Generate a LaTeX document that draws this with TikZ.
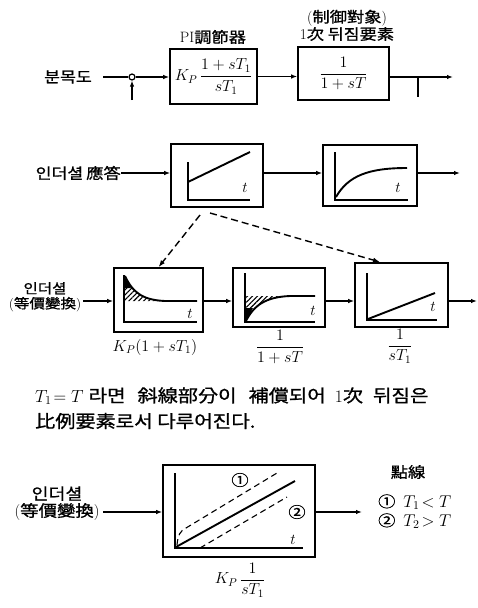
\documentclass[tikz,border=0pt]{standalone}
\usepackage{fix-cm}
\usepackage{amsmath}
\usepackage{fontspec}
\newfontfamily\kr{Noto Sans CJK KR}[FakeBold=1,FakeStretch=1.15]
\usetikzlibrary{arrows.meta,patterns.meta,calc}
\begin{document}
\begin{tikzpicture}[x=1pt,y=-1pt,
  box/.style={draw,line width=1.6pt,inner sep=0pt,font=\fontsize{16}{19}\selectfont},
  conn/.style={line width=1.3pt,-{Latex[length=6pt,width=4.5pt]}},
  dsh/.style={line width=1.4pt,dash pattern=on 7pt off 4pt,-{Latex[length=7pt,width=5pt]}},
  ln/.style={line width=1.3pt},
  axis/.style={line width=1.1pt},
  crv/.style={line width=1.9pt},
  ddl/.style={line width=1.1pt,dash pattern=on 6pt off 4pt},
  hatch/.style={pattern={Lines[angle=45,distance=3.5pt,line width=1.1pt]}},
  lab/.style={font=\kr\fontsize{15}{17}\selectfont,inner sep=0pt},
  lab3/.style={font=\kr\fontsize{13.5}{15}\selectfont,inner sep=0pt,align=center},
  lab4/.style={font=\kr\fontsize{16}{17}\selectfont,inner sep=0pt,align=center},
  txt/.style={font=\kr\fontsize{17.5}{19}\selectfont,inner sep=0pt,anchor=west},
  mth/.style={font=\fontsize{16}{19}\selectfont,inner sep=0pt},
  tl/.style={font=\fontsize{15}{18}\selectfont,inner sep=0pt},
]
\useasboundingbox (0,0) rectangle (478,608);

% ---------- Row 1 ----------
\node[lab,anchor=east] (in1) at (92,77) {분목도};
\coordinate (s0) at (103,77);
\node[circle,draw,line width=1.2pt,minimum size=6pt,inner sep=0pt] (sum) at (132,77) {};
\coordinate (fb) at (132,100);
\node[box,minimum width=87pt,minimum height=55pt] (pi) at (213.5,76.5) {$\displaystyle K_P\,\frac{1+sT_1}{sT_1}$};
\node[box,minimum width=91pt,minimum height=53pt] (ctrl) at (343.5,73.5) {$\displaystyle\frac{1}{1+sT}$};
\node[lab] (pil) at (213,37) {\textrm{PI}調節器};
\node[lab] (ct1) at (347,18) {\textrm{(}制御對象\textrm{)}};
\node[lab] (ct2) at (347,34) {\textrm{1}次 뒤짐要素};
\draw[ln] (s0) -- (sum.west);
\draw[conn] (sum.east) -- (pi.west |- sum.east);
\draw[conn] (fb) -- (sum.south);
\draw[conn] (pi.east) -- (ctrl.west |- pi.east);
\coordinate (o1) at (453,77);
\coordinate (br) at (418,77);
\coordinate (brd) at (418,97);
\draw[conn] (ctrl.east |- o1) -- (o1);
\draw[ln] (br) -- (brd);

% ---------- Row 2 ----------
\node[lab,anchor=east] (in2) at (121,173) {인더셜\hspace{3pt}應答};
\node[box,minimum width=92pt,minimum height=63pt] (r1) at (217,175.5) {};
\node[box,minimum width=94pt,minimum height=61pt] (r2) at (370,175.5) {};
\draw[conn] (in2.east) -- (r1.west |- in2.east);
\draw[conn] (r1.east |- in2.east) -- (r2.west |- in2.east);
\coordinate (o2) at (460,173);
\draw[conn] (r2.east |- o2) -- (o2);
\draw[axis] (188,162) -- (188,200) -- (250,200);
\draw[crv] (188,182) -- (250,152);
\node[tl] (t1) at (245,188) {$t$};
\draw[axis] (335,152) -- (335,200) -- (408,200);
\draw[crv] (336,197) .. controls (348,176) and (368,168) .. (407,168);
\node[tl] (t2) at (398,188) {$t$};

% ---------- Row 3 ----------
\node[lab3] (in3) at (45,297) {인더셜\\\textrm{(}等價變換\textrm{)}};
\node[box,minimum width=89pt,minimum height=64pt] (A) at (158.5,300) {};
\node[box,minimum width=92pt,minimum height=59pt] (B) at (279,297.5) {};
\node[box,minimum width=93pt,minimum height=64pt] (C) at (401.5,295) {};
\coordinate (m3) at (83,301);
\draw[conn] (m3) -- (A.west |- m3);
\draw[conn] (A.east |- m3) -- (B.west |- m3);
\draw[conn] (B.east |- m3) -- (C.west |- m3);
\coordinate (o3) at (477,301);
\draw[conn] (C.east |- o3) -- (o3);

% dashed arrows
\coordinate (d1s) at (200,215);
\coordinate (d2s) at (210,213);
\coordinate (d2e) at (380,262);
\draw[dsh] (d1s) -- (A.north);
\draw[dsh] (d2s) -- (d2e);

% box A: decay
\fill[hatch] (125,276) .. controls (133,293) and (143,300) .. (165,301) -- (125,301) -- cycle;
\fill (124,276) .. controls (127,282) .. (131,288) -- (124,288) -- cycle;
\draw[axis] (124,275) -- (124,322) -- (197,322);
\draw[crv] (125,276) .. controls (133,293) and (143,300) .. (165,301) -- (197,301);
\node[tl] (tA) at (190,314) {$t$};
% box B: lag
\fill[hatch] (246,296) -- (246,321) .. controls (254,305) and (266,297) .. (290,296) -- cycle;
\fill (246,321) .. controls (249,315) .. (253,308) -- (246,308) -- cycle;
\draw[axis] (245,273) -- (245,322) -- (315,322);
\draw[crv] (246,321) .. controls (254,305) and (266,297) .. (290,296) -- (315,296);
\node[tl] (tB) at (313,311) {$t$};
% box C: ramp
\draw[axis] (367,273) -- (367,320) -- (437,320);
\draw[crv] (368,319) -- (435,293);
\node[tl] (tC) at (433,307) {$t$};

\node[mth] (la) at (155,347) {$K_P(1+sT_1)$};
\node[mth] (lb) at (280,347) {$\dfrac{1}{1+sT}$};
\node[mth] (lc) at (400,346) {$\dfrac{1}{sT_1}$};

% ---------- Text ----------
\node[txt] (p1) at (35,396) {$T_1\!=T$\hspace{5pt}라면\hspace{12pt}斜線部分이\hspace{12pt}補償되어\hspace{9pt}\textrm{1}次\hspace{10pt}뒤짐은};
\node[txt] (p2) at (35,421) {比例要素로서 다루어진다.};

% ---------- Row 4 ----------
\node[lab4] (in4) at (57,503.5) {인더셜\\\textrm{(}等價變換\textrm{)}};
\node[box,minimum width=152pt,minimum height=92pt] (E) at (239,511) {};
\coordinate (m4) at (103,512);
\draw[conn] (m4) -- (E.west |- m4);
\coordinate (o4) at (362,512);
\draw[conn] (E.east |- o4) -- (o4);
\draw[axis] (175,473) -- (175,548) -- (303,548);
\draw[crv] (176,547) -- (295,481);
\draw[ddl] (177,545) .. controls (178,535) and (180,531) .. (186,528) -- (277,473);
\draw[ddl] (200,548) -- (287,497);
\node[font=\kr\fontsize{15}{16}\selectfont,inner sep=0pt] (c1) at (240,480) {①};
\node[font=\kr\fontsize{15}{16}\selectfont,inner sep=0pt] (c2) at (297,512) {②};
\node[tl] (tE) at (293,540) {$t$};
\node[mth] (le) at (240,580) {$K_P\,\dfrac{1}{sT_1}$};

\node[lab] (dl) at (408,472) {點線};
\node[mth,anchor=west,font=\fontsize{17}{19}\selectfont] (k1) at (378,502) {{\kr\fontsize{15}{16}\selectfont ①}\hspace{8pt}$T_1\!<T$};
\node[mth,anchor=west,font=\fontsize{17}{19}\selectfont] (k2) at (378,521) {{\kr\fontsize{15}{16}\selectfont ②}\hspace{8pt}$T_2\!>T$};
\end{tikzpicture}
\end{document}
